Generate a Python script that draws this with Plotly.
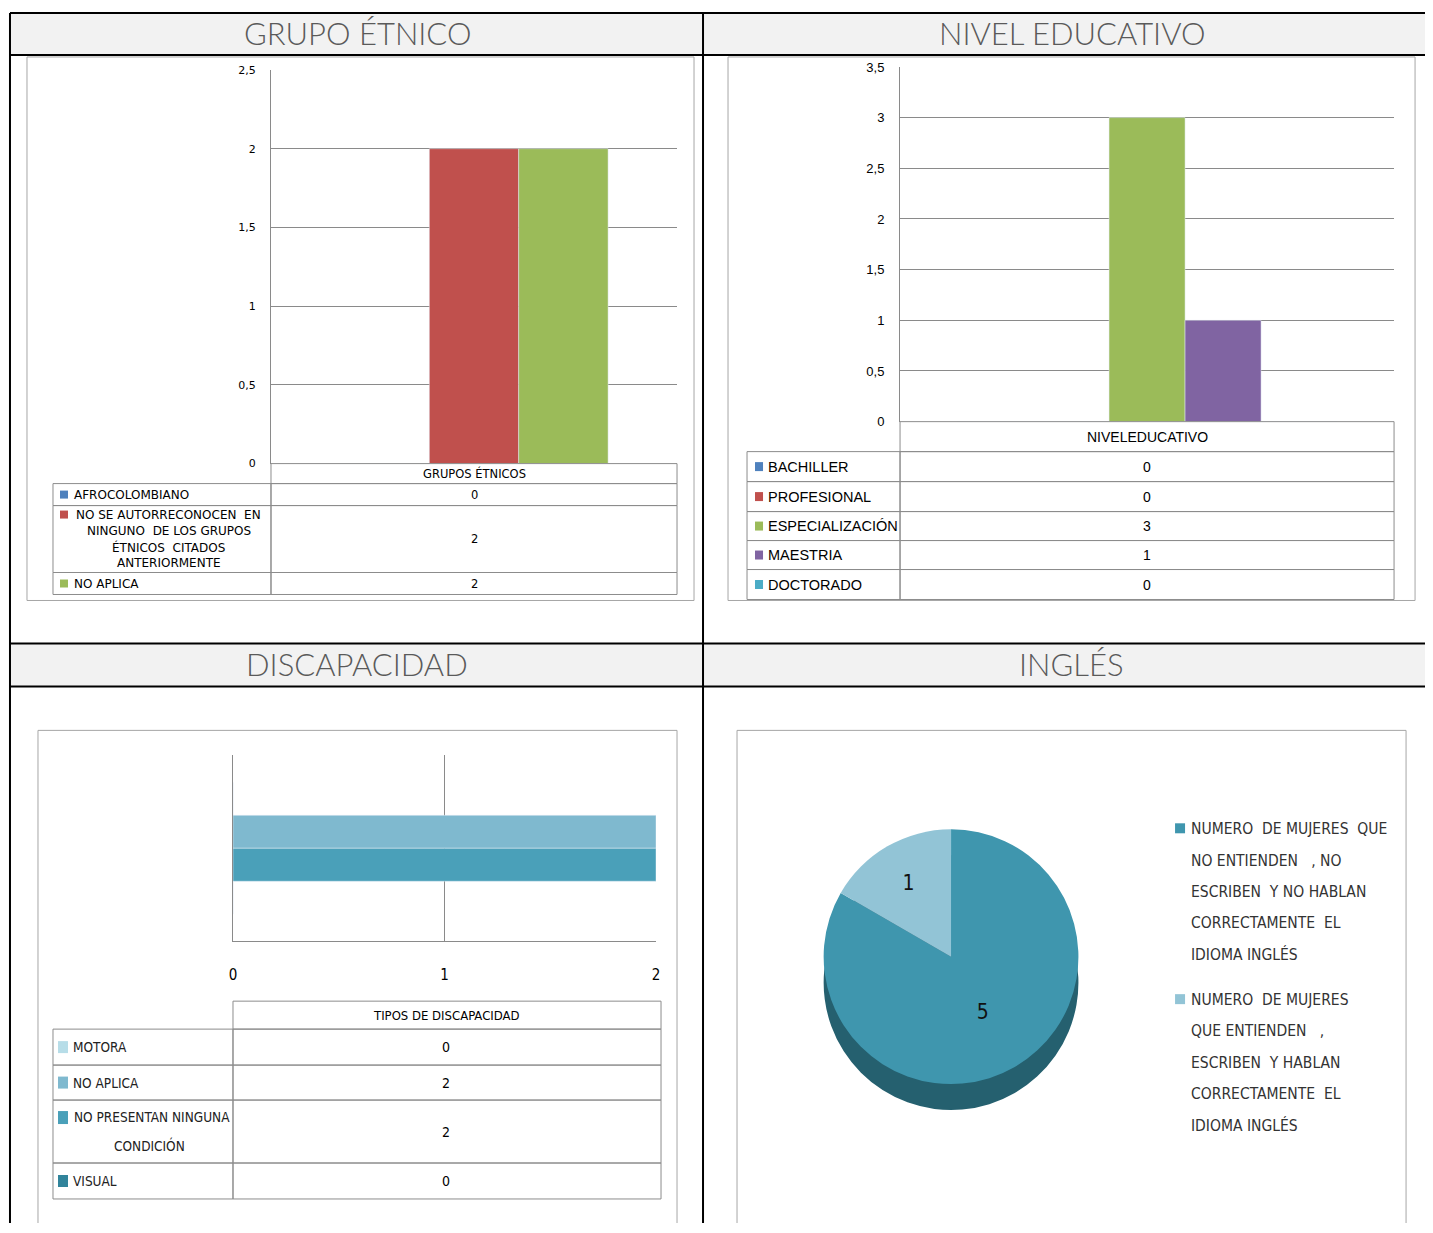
import plotly.graph_objects as go

# ---------------- DATA ----------------
panel_titles = ["GRUPO ÉTNICO", "NIVEL EDUCATIVO", "DISCAPACIDAD", "INGLÉS"]

etnico_category = "GRUPOS ÉTNICOS"
etnico_series = ["AFROCOLOMBIANO",
                 "NO SE AUTORRECONOCEN EN NINGUNO DE LOS GRUPOS ÉTNICOS CITADOS ANTERIORMENTE",
                 "NO APLICA"]
etnico_label_lines = [["AFROCOLOMBIANO"],
                      ["NO SE AUTORRECONOCEN  EN", "NINGUNO  DE LOS GRUPOS", "ÉTNICOS  CITADOS", "ANTERIORMENTE"],
                      ["NO APLICA"]]
etnico_values = [0, 2, 2]

educ_category = "NIVEL EDUCATIVO"
educ_series = ["BACHILLER", "PROFESIONAL", "ESPECIALIZACIÓN", "MAESTRIA", "DOCTORADO"]
educ_values = [0, 0, 3, 1, 0]

disc_category = "TIPOS DE DISCAPACIDAD"
disc_series = ["MOTORA", "NO APLICA", "NO PRESENTAN NINGUNA CONDICIÓN", "VISUAL"]
disc_label_lines = [["MOTORA"], ["NO APLICA"], ["NO PRESENTAN NINGUNA", "CONDICIÓN"], ["VISUAL"]]
disc_values = [0, 2, 2, 0]

ingles_labels = ["NUMERO DE MUJERES QUE NO ENTIENDEN, NO ESCRIBEN Y NO HABLAN CORRECTAMENTE EL IDIOMA INGLÉS",
                 "NUMERO DE MUJERES QUE ENTIENDEN, ESCRIBEN Y HABLAN CORRECTAMENTE EL IDIOMA INGLÉS"]
ingles_legend_lines = [["NUMERO  DE MUJERES  QUE", "NO ENTIENDEN   , NO", "ESCRIBEN  Y NO HABLAN",
                        "CORRECTAMENTE  EL", "IDIOMA INGLÉS"],
                       ["NUMERO  DE MUJERES", "QUE ENTIENDEN   ,", "ESCRIBEN  Y HABLAN",
                        "CORRECTAMENTE  EL", "IDIOMA INGLÉS"]]
ingles_values = [5, 1]

# ---------------- STYLE ----------------
OFF = 8                 # default body margin of the page
FW, FH = 1417, 1215     # figure size so the page fits the window
SX, BX = 0.9943, 4.06   # observed page -> picture mapping (compensated)
SY, BY = 0.9885, 6.1
etnico_colors = ["#4f81bd", "#c0504d", "#9bbb59"]
educ_colors = ["#4f81bd", "#c0504d", "#9bbb59", "#8064a2", "#4bacc6"]
disc_colors = ["#b7dde8", "#7fb9cf", "#4aa0b9", "#31849b"]
pie_colors = ["#3f96ae", "#92c4d6"]
pie_side = ["#25606f", "#25606f"]
GRID = "#8a8a8a"
CELL = "#8c8c8c"
F_GOTHIC = "DejaVu Sans"
F_CAL = "Liberation Sans, Arial, sans-serif"
F_NARROW = "DejaVu Sans Condensed, sans-serif"


def X(px):
    return ((px - BX) / SX - OFF) / FW


def Y(py):
    return 1 - ((py - BY) / SY - OFF) / FH


shapes = []
annotations = []


def rect(x0, y0, x1, y1, color=CELL, width=1, fill=None):
    d = dict(type="rect", xref="paper", yref="paper", x0=X(x0), x1=X(x1), y0=Y(y1), y1=Y(y0),
             line=dict(color=color, width=width), layer="above")
    if fill:
        d["fillcolor"] = fill
    if width == 0:
        d["line"] = dict(width=0)
    shapes.append(d)


def line(x0, y0, x1, y1, color="black", width=2):
    shapes.append(dict(type="line", xref="paper", yref="paper", x0=X(x0), x1=X(x1), y0=Y(y0), y1=Y(y1),
                       line=dict(color=color, width=width), layer="above"))


def text(t, x, y, size, family, color="#000000", xanchor="center", weight=None):
    f = dict(size=size, family=family, color=color)
    if weight:
        f["weight"] = weight
    annotations.append(dict(text=t, x=X(x), y=Y(y), xref="paper", yref="paper", showarrow=False,
                            xanchor=xanchor, yanchor="middle", font=f))


# ---------------- OUTER GRID ----------------
rect(10, 12, 1433, 54, width=0, fill="#f2f2f2")
rect(10, 643, 1433, 686, width=0, fill="#f2f2f2")
for yy in (12, 54, 643, 686):
    line(10, yy, 1433, yy)
line(10, 12, 10, 1233)
line(703, 12, 703, 1233)

title_pos = [(357, 32), (1072, 32), (357, 664), (1071, 664)]
for t, (tx, ty) in zip(panel_titles, title_pos):
    text(t, tx, ty, 31, "Lato, sans-serif", color="#5a5a5a", weight=300)

# chart frames
rect(27, 56, 694, 600, color="#a6a6a6")
rect(728, 56, 1415, 600, color="#a6a6a6")
rect(38, 730, 677, 1225, color="#a6a6a6")
rect(737, 730, 1406, 1225, color="#a6a6a6")

fig = go.Figure()

# ---------------- CHART 1: GRUPO ÉTNICO ----------------
for name, v, c in zip(etnico_series, etnico_values, etnico_colors):
    fig.add_trace(go.Bar(x=[etnico_category], y=[v], name=name, marker_color=c,
                         xaxis="x", yaxis="y", showlegend=False))

rect(271, 463, 677, 483)
text(etnico_category, 474, 473, 11.5, F_GOTHIC)
rows1 = [483, 505, 572, 594]
for i, (lines_, v, c) in enumerate(zip(etnico_label_lines, etnico_values, etnico_colors)):
    y0, y1 = rows1[i], rows1[i + 1]
    rect(53, y0, 271, y1)
    rect(271, y0, 677, y1)
    yc = (y0 + y1) / 2
    if len(lines_) == 1:
        rect(60, yc - 4, 68, yc + 4, width=0, fill=c)
        text(lines_[0], 72, yc, 12, F_GOTHIC, xanchor="left")
    else:
        ys = [y0 + 9 + k * 16.3 for k in range(len(lines_))]
        rect(60, ys[0] - 4, 68, ys[0] + 4, width=0, fill=c)
        for ln, yy in zip(lines_, ys):
            text(ln, 169, yy, 12, F_GOTHIC)
    text(str(v), 474, yc, 11.5, F_GOTHIC)

# ---------------- CHART 2: NIVEL EDUCATIVO ----------------
for name, v, c in zip(educ_series, educ_values, educ_colors):
    fig.add_trace(go.Bar(x=[educ_category], y=[v], name=name, marker_color=c,
                         xaxis="x2", yaxis="y2", showlegend=False))

rect(900, 421, 1394, 451)
text(educ_category.replace(" ", ""), 1147, 436, 14, F_CAL)
rows2 = [451, 481, 511, 540, 569, 599]
for i, (name, v, c) in enumerate(zip(educ_series, educ_values, educ_colors)):
    y0, y1 = rows2[i], rows2[i + 1]
    rect(747, y0, 900, y1)
    rect(900, y0, 1394, y1)
    yc = (y0 + y1) / 2
    rect(755, yc - 4.5, 763, yc + 4.5, width=0, fill=c)
    text(name, 766, yc, 14.5, F_CAL, xanchor="left")
    text(str(v), 1147, yc, 14, F_CAL)

# ---------------- CHART 3: DISCAPACIDAD ----------------
for name, v, c in zip(disc_series, disc_values, disc_colors):
    fig.add_trace(go.Bar(y=[disc_category], x=[v], name=name, marker_color=c, orientation="h",
                         xaxis="x3", yaxis="y3", showlegend=False))

rect(233, 1001, 661, 1029)
text(disc_category, 446, 1015, 13, F_NARROW)
rows3 = [1029, 1065, 1100, 1163, 1199]
for i, (lines_, v, c) in enumerate(zip(disc_label_lines, disc_values, disc_colors)):
    y0, y1 = rows3[i], rows3[i + 1]
    rect(53, y0, 233, y1)
    rect(233, y0, 661, y1)
    yc = (y0 + y1) / 2
    if len(lines_) == 1:
        rect(58, yc - 6, 68, yc + 6, width=0, fill=c)
        text(lines_[0], 71, yc, 13.5, F_NARROW, color="#222222", xanchor="left")
    else:
        rect(58, 1111, 68, 1124, width=0, fill=c)
        text(lines_[0], 72, 1117, 13.5, F_NARROW, color="#222222", xanchor="left")
        text(lines_[1], 150, 1145, 13.5, F_NARROW, color="#222222")
    text(str(v), 446, yc, 14, F_NARROW)

# ---------------- CHART 4: INGLÉS ----------------
fig.add_trace(go.Pie(values=ingles_values, labels=ingles_labels, sort=False, direction="clockwise",
                     rotation=0, marker=dict(colors=pie_side, line=dict(width=0)), textinfo="none",
                     domain=dict(x=[X(796), X(1106)], y=[Y(1110), Y(855)]), showlegend=False,
                     hoverinfo="skip"))
fig.add_trace(go.Pie(values=ingles_values, labels=ingles_labels, sort=False, direction="clockwise",
                     rotation=0, marker=dict(colors=pie_colors, line=dict(width=0)),
                     textinfo="value", textposition="inside", insidetextorientation="horizontal",
                     textfont=dict(size=21, family=F_NARROW, color="#111111"),
                     domain=dict(x=[X(796), X(1106)], y=[Y(1084), Y(829)]), showlegend=False))

leg_y0 = [829, 1000]
for lines_, c, y0 in zip(ingles_legend_lines, pie_colors, leg_y0):
    rect(1175, y0 - 6, 1185, y0 + 4, width=0, fill=c)
    for k, ln in enumerate(lines_):
        text(ln, 1189, y0 + k * 31.3, 15.5, F_NARROW, color="#333333", xanchor="left")

# ---------------- LAYOUT ----------------
fig.update_layout(
    width=FW, height=FH, margin=dict(l=0, r=0, t=0, b=0, pad=0),
    paper_bgcolor="white", plot_bgcolor="white",
    barmode="group", bargap=0.3, bargroupgap=0, separators=",.",
    showlegend=False, shapes=shapes, annotations=annotations,
    xaxis=dict(domain=[X(271), X(677)], anchor="y", type="category", range=[-0.53, 0.53],
               showticklabels=False, showgrid=False, showline=False, zeroline=False),
    yaxis=dict(domain=[Y(463), Y(69)], anchor="x", range=[0, 2.5], dtick=0.5, tick0=0,
               showgrid=True, gridcolor=GRID, gridwidth=1, showline=True, linecolor=GRID,
               zeroline=False, ticks="", ticklabelstandoff=12,
               tickfont=dict(size=11, family=F_GOTHIC, color="#000")),
    xaxis2=dict(domain=[X(900), X(1394)], anchor="y2", type="category", range=[-0.455, 0.455],
                showticklabels=False, showgrid=False, showline=False, zeroline=False),
    yaxis2=dict(domain=[Y(421), Y(66)], anchor="x2", range=[0, 3.5], dtick=0.5, tick0=0,
                showgrid=True, gridcolor=GRID, gridwidth=1, showline=True, linecolor=GRID,
                zeroline=False, ticks="", ticklabelstandoff=12,
                tickfont=dict(size=13, family=F_CAL, color="#000")),
    xaxis3=dict(domain=[X(233), X(656)], anchor="y3", range=[0, 2], dtick=1, tick0=0,
                showgrid=True, gridcolor=GRID, gridwidth=1, showline=True, linecolor=GRID,
                zeroline=False, ticks="", ticklabelstandoff=20,
                tickfont=dict(size=15, family=F_NARROW, color="#000")),
    yaxis3=dict(domain=[Y(941), Y(755)], anchor="x3", type="category", range=[0.493, -0.493],
                showticklabels=False, showgrid=False, showline=True, linecolor=GRID, zeroline=False),
)

fig.write_html("out.html", config={"displayModeBar": False})
